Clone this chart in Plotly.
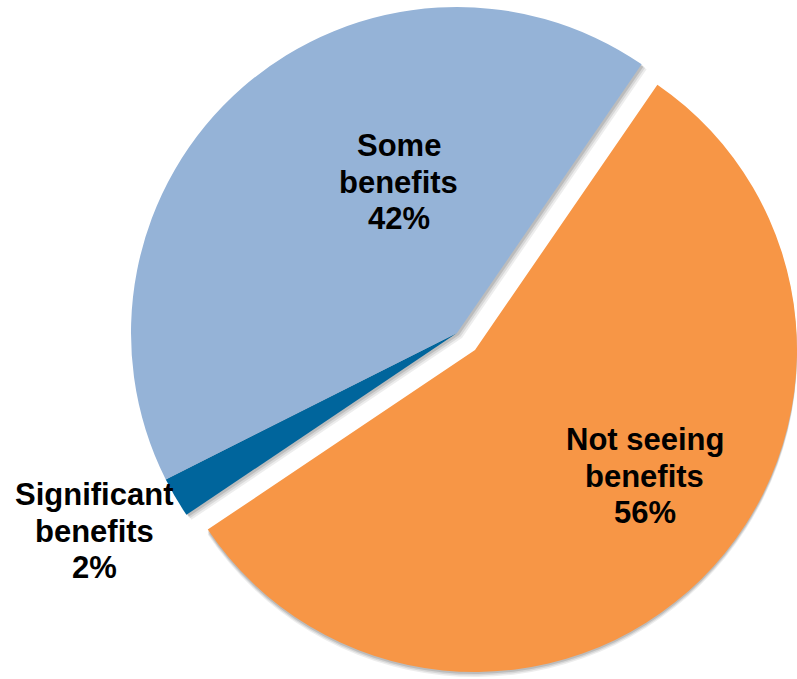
import plotly.graph_objects as go

# ---- data ----
labels = ["Not seeing benefits", "Significant benefits", "Some benefits"]
values = [56, 2, 42]
colors = ["#F79646", "#00659C", "#95B3D7"]

W, H = 797, 679
TRANSPARENT = "rgba(0,0,0,0)"

def dom(cx, cy, r):
    return dict(x=[max(0, (cx - r) / W), min(1, (cx + r) / W)],
                y=[max(0, 1 - (cy + r) / H), min(1, 1 - (cy - r) / H)])

ROT = 34.5
common = dict(labels=labels, values=values, sort=False, direction="clockwise",
              rotation=ROT, textinfo="none", showlegend=False)

# main pie (blue slices) and exploded orange slice
main_c = (457, 333, 326)
pull_c = (475, 350, 322)

def slice_colors(keep, col=None):
    return [(col if col else colors[i]) if i in keep else TRANSPARENT
            for i in range(len(values))]

fig = go.Figure()

# soft shadows
for off, a in [(5, 0.07), (3.5, 0.09), (2, 0.12)]:
    cx, cy, r = main_c
    fig.add_trace(go.Pie(**common, domain=dom(cx + off, cy + off, r), hoverinfo="skip",
                         marker=dict(colors=slice_colors([1, 2], f"rgba(0,0,0,{a})"),
                                     line=dict(width=0))))
    cx, cy, r = pull_c
    fig.add_trace(go.Pie(**common, domain=dom(cx, cy + off, r), hoverinfo="skip",
                         marker=dict(colors=slice_colors([0], f"rgba(0,0,0,{a})"),
                                     line=dict(width=0))))

cx, cy, r = main_c
fig.add_trace(go.Pie(**common, domain=dom(cx, cy, r), hoverinfo="label+percent",
                     marker=dict(colors=slice_colors([1, 2]), line=dict(width=0))))
cx, cy, r = pull_c
fig.add_trace(go.Pie(**common, domain=dom(cx, cy, r), hoverinfo="label+percent",
                     marker=dict(colors=slice_colors([0]), line=dict(width=0))))

# labels (center x, first baseline y) in pixels
label_pos = {"Some benefits": (398.5, 156),
             "Not seeing benefits": (644.5, 450),
             "Significant benefits": (94, 505)}
FS = 31
LS = 36.5
total = sum(values)
for lab, v in zip(labels, values):
    first, second = lab.rsplit(" ", 1)
    lines = [first, second, f"{round(100 * v / total)}%"]
    x0, b0 = label_pos[lab]
    for i, t in enumerate(lines):
        yb = b0 + i * LS
        fig.add_annotation(text=f"<b>{t}</b>", x=x0 / W, y=1 - (yb - 0.33 * FS) / H,
                           xref="paper", yref="paper", xanchor="center", yanchor="middle",
                           showarrow=False,
                           font=dict(family="Liberation Sans, Arial, sans-serif",
                                     size=FS, color="#000000"))

fig.update_layout(width=W, height=H, margin=dict(l=0, r=0, t=0, b=0),
                  paper_bgcolor="white", plot_bgcolor="white")
fig.write_html("out.html", config={"displayModeBar": False},
               post_script="document.body.style.margin='0';document.body.style.overflow='hidden';")
